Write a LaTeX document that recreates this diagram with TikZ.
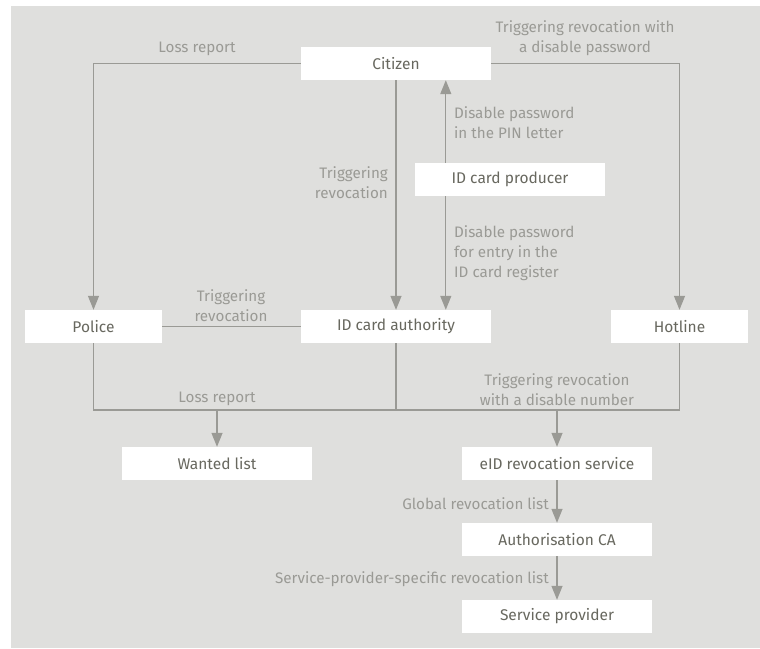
\documentclass[tikz,border=0pt]{standalone}
\usepackage{fontspec}
\setmainfont{Fira Sans}
\usetikzlibrary{arrows.meta}
\definecolor{bgc}{HTML}{DFDFDD}
\definecolor{linec}{HTML}{9A9A95}
\definecolor{labc}{HTML}{9A9A95}
\definecolor{boxtc}{HTML}{68685F}
\tikzset{
  box/.style={fill=white, draw=none, minimum height=33pt, minimum width=190pt, inner sep=0pt, text=boxtc, font=\fontsize{15.5}{20}\selectfont},
  smallbox/.style={box, minimum width=137pt},
  lab/.style={text=labc, inner sep=0pt, yshift=-1.5pt, font=\fontsize{15.2}{20}\selectfont},
  conn/.style={draw=linec, line width=1.3pt},
  arr/.style={conn, -{Triangle[length=14pt,width=11pt]}},
}
\begin{document}
\begin{tikzpicture}[x=1pt,y=-1pt]
\useasboundingbox (0,0) rectangle (760,648);
\fill[bgc] (11,6) rectangle (760,648);
\coordinate (bus) at (0,410);
% boxes
\node[box] (cit) at (396,63.5) {Citizen};
\node[box] (prod) at (510,179.5) {ID card producer};
\node[smallbox] (pol) at (93.5,326.5) {Police};
\node[box] (aut) at (396,326.5) {ID card authority};
\node[smallbox] (hot) at (679.5,326.5) {Hotline};
\node[box] (wl) at (217,463.5) {Wanted list};
\node[box] (eid) at (557,463.5) {eID revocation service};
\node[box] (ca) at (557,539.5) {Authorisation CA};
\node[box] (sp) at (557,616.5) {Service provider};
% connectors
\draw[arr] (cit.west) -| (pol.north);
\draw[arr] (cit.east) -| (hot.north);
\draw[arr] (cit.south) -- (aut.north);
\coordinate (px) at ([xshift=31pt]prod.north west);
\draw[arr] (px) -- (px |- cit.south);
\draw[arr] (px |- prod.south) -- (px |- aut.north);
\draw[conn] (pol.east) -- (aut.west);
\draw[conn] (pol.south) |- (hot.south |- bus) -- (hot.south);
\draw[conn] (aut.south) -- (aut.south |- bus);
\draw[arr] (wl.north |- bus) -- (wl.north);
\draw[arr] (eid.north |- bus) -- (eid.north);
\draw[arr] (eid.south) -- (ca.north);
\draw[arr] (ca.south) -- (sp.north);
% labels
\node[lab] (l1) at (197,47) {Loss report};
\node[lab, align=center] (l2) at (585,37) {Triggering revocation with\\a disable password};
\node[lab, align=right, anchor=east] (l3) at (388,181) {Triggering\\revocation};
\node[lab, align=left, anchor=west] (l4) at (454,121) {Disable password\\in the PIN letter};
\node[lab, align=left, anchor=west] (l5) at (454,252) {Disable password\\for entry in the\\ID card register};
\node[lab, align=center] (l6) at (231,304) {Triggering\\revocation};
\node[lab] (l7) at (217,397) {Loss report};
\node[lab, align=center] (l8) at (557,388) {Triggering revocation\\with a disable number};
\node[lab, anchor=east] (l9) at (549,502) {Global revocation list};
\node[lab, anchor=east] (l10) at (549,578) {Service-provider-specific revocation list};
\end{tikzpicture}
\end{document}
